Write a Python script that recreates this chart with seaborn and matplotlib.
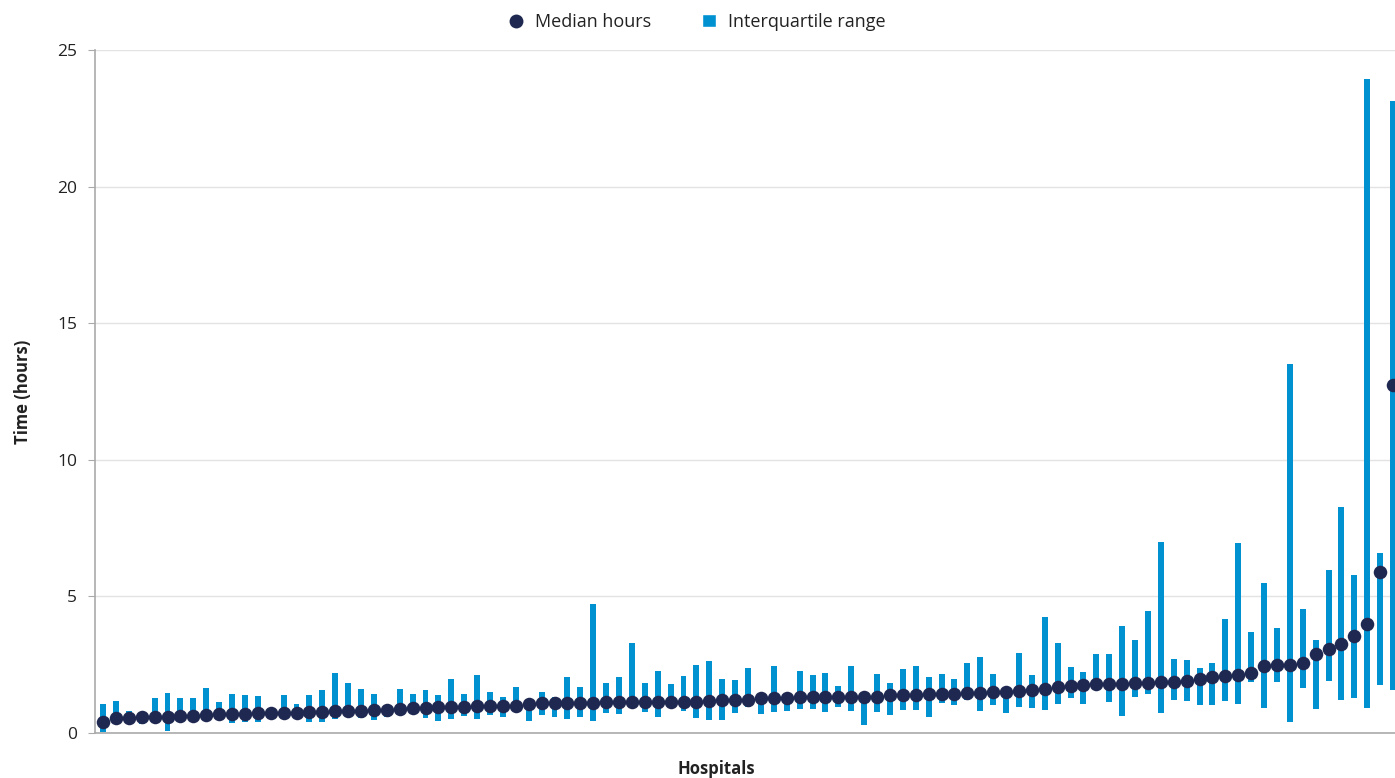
import numpy as np
import pandas as pd
import seaborn as sns
import matplotlib.pyplot as plt
from matplotlib.lines import Line2D
from matplotlib.patches import Patch

# Mediana e intervalo interquartil por hospital (ordenados pela mediana)
median_hours = [
    0.41, 0.54, 0.54, 0.57, 0.60, 0.60, 0.62, 0.62, 0.65, 0.70,
    0.70, 0.70, 0.72, 0.72, 0.74, 0.74, 0.77, 0.77, 0.81, 0.81,
    0.81, 0.84, 0.84, 0.87, 0.93, 0.93, 0.95, 0.95, 0.95, 0.98,
    0.99, 1.00, 1.00, 1.06, 1.09, 1.09, 1.09, 1.11, 1.11, 1.12,
    1.12, 1.13, 1.13, 1.13, 1.13, 1.13, 1.13, 1.16, 1.20, 1.20,
    1.22, 1.29, 1.29, 1.29, 1.31, 1.31, 1.31, 1.33, 1.33, 1.33,
    1.33, 1.39, 1.40, 1.40, 1.42, 1.42, 1.42, 1.45, 1.45, 1.49,
    1.49, 1.54, 1.57, 1.60, 1.70, 1.72, 1.75, 1.78, 1.78, 1.80,
    1.83, 1.83, 1.85, 1.85, 1.91, 1.98, 2.05, 2.10, 2.12, 2.18,
    2.44, 2.48, 2.50, 2.56, 2.89, 3.09, 3.27, 3.54, 4.00, 5.89,
    12.75,
]
q1_hours = [
    0.05, 0.50, 0.50, 0.33, 0.48, 0.09, 0.39, 0.54, 0.55, 0.54,
    0.35, 0.41, 0.41, 0.66, 0.54, 0.70, 0.41, 0.39, 0.50, 0.57,
    0.54, 0.46, 0.57, 0.72, 0.72, 0.54, 0.43, 0.50, 0.63, 0.52,
    0.67, 0.60, 0.95, 0.45, 0.66, 0.60, 0.50, 0.57, 0.45, 0.73,
    0.70, 0.95, 0.77, 0.60, 0.96, 0.82, 0.54, 0.48, 0.48, 0.72,
    0.94, 0.68, 0.78, 0.82, 0.87, 0.89, 0.78, 0.96, 0.79, 0.29,
    0.77, 0.67, 0.84, 0.83, 0.60, 1.09, 1.04, 1.21, 0.82, 1.03,
    0.74, 0.94, 0.90, 0.84, 1.05, 1.28, 1.06, 1.59, 1.13, 0.62,
    1.32, 1.43, 0.72, 1.22, 1.16, 1.01, 1.01, 1.16, 1.05, 1.87,
    0.90, 1.87, 0.39, 1.65, 0.88, 1.89, 1.21, 1.28, 0.90, 1.77,
    1.59,
]
q3_hours = [
    1.05, 1.16, 0.82, 0.60, 1.28, 1.45, 1.29, 1.29, 1.63, 1.14,
    1.43, 1.38, 1.34, 0.75, 1.39, 1.05, 1.38, 1.56, 2.20, 1.83,
    1.61, 1.43, 0.87, 1.60, 1.43, 1.57, 1.38, 1.98, 1.42, 2.12,
    1.51, 1.33, 1.70, 1.08, 1.49, 1.33, 2.06, 1.70, 4.71, 1.84,
    2.06, 3.28, 1.82, 2.26, 1.78, 2.07, 2.48, 2.64, 1.96, 1.94,
    2.37, 1.32, 2.46, 1.33, 2.27, 2.14, 2.20, 1.71, 2.45, 1.35,
    2.16, 1.82, 2.34, 2.44, 2.06, 2.16, 1.96, 2.57, 2.79, 2.16,
    1.52, 2.92, 2.12, 4.26, 3.28, 2.43, 2.24, 2.88, 2.88, 3.90,
    3.39, 4.46, 6.98, 2.72, 2.67, 2.38, 2.57, 4.16, 6.95, 3.68,
    5.50, 3.84, 13.50, 4.54, 3.39, 5.98, 8.27, 5.77, 23.94, 6.59,
    23.13,
]
y_ticks = [0, 5, 10, 15, 20, 25]

NAVY = "#1f2850"
BLUE = "#0091d1"

df = pd.DataFrame({
    "hospital": np.arange(len(median_hours)),
    "median": median_hours,
    "q1": q1_hours,
    "q3": q3_hours,
})

sns.set_style("white")
plt.rcParams["font.family"] = ["Open Sans", "DejaVu Sans"]

fig = plt.figure(figsize=(13.95, 7.78), dpi=100)
ax = fig.add_axes([95 / 1395, 1 - 733 / 778, 1300 / 1395, 683 / 778])

# barras do intervalo interquartil
ax.bar(df["hospital"], df["q3"] - df["q1"], bottom=df["q1"], width=0.46,
       color=BLUE, linewidth=0, zorder=2)

# pontos da mediana
sns.scatterplot(data=df, x="hospital", y="median", ax=ax, color=NAVY,
                s=95, linewidth=0, zorder=3, legend=False)

ax.set_xlim(-0.62, 100.15)
ax.set_ylim(0, 25)
ax.set_yticks(y_ticks)
ax.set_xticks([])
ax.grid(axis="y", color="#e3e3e3", linewidth=1, zorder=0)
ax.tick_params(axis="y", length=5, color="#aaaaaa", labelsize=12.5,
               labelcolor="#222222", pad=8, left=True)
for side in ["top", "right"]:
    ax.spines[side].set_visible(False)
for side in ["left", "bottom"]:
    ax.spines[side].set_color("#aaaaaa")
    ax.spines[side].set_linewidth(1.2)

ax.set_ylabel("Time (hours)", fontsize=12, fontweight="bold", color="#222222", labelpad=18)
ax.set_xlabel("")
fig.text(716 / 1395, 1 - 769 / 778, "Hospitals", fontsize=12, fontweight="bold",
         color="#222222", ha="center", va="center")

handles = [
    Line2D([0], [0], marker="o", linestyle="none", markersize=10,
           markerfacecolor=NAVY, markeredgewidth=0, label="Median hours"),
    Patch(facecolor=BLUE, label="Interquartile range"),
]
fig.legend(handles=handles, loc="center", bbox_to_anchor=(0.5, 1 - 22 / 778),
           ncol=2, frameon=False, fontsize=13, handlelength=0.75, handleheight=0.75,
           handletextpad=0.7, columnspacing=2.8, labelcolor="#222222")

plt.savefig("out.png", dpi=100)
